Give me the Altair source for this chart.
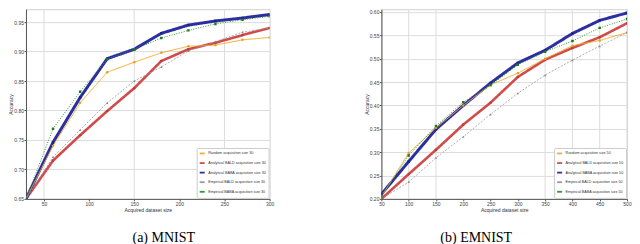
import altair as alt
import pandas as pd

# ---------------- data ----------------
mnist_sizes = [30, 60, 90, 120, 150, 180, 210, 240, 270, 300]
mnist_series = [
    "Random acquisition size 30",
    "Analytical BALD acquisition size 30",
    "Analytical BABA acquisition size 30",
    "Empirical BALD acquisition size 30",
    "Empirical BABA acquisition size 30",
]
mnist_random = [0.650, 0.740, 0.813, 0.865, 0.882, 0.898, 0.909, 0.911, 0.920, 0.924]
mnist_an_bald = [0.650, 0.715, 0.758, 0.799, 0.838, 0.884, 0.904, 0.915, 0.928, 0.940]
mnist_an_baba = [0.650, 0.746, 0.822, 0.888, 0.904, 0.931, 0.945, 0.952, 0.957, 0.963]
mnist_emp_bald = [0.650, 0.721, 0.767, 0.813, 0.850, 0.874, 0.901, 0.917, 0.933, 0.940]
mnist_emp_baba = [0.650, 0.769, 0.832, 0.887, 0.904, 0.923, 0.936, 0.947, 0.954, 0.960]
mnist_xticks = [50, 100, 150, 200, 250, 300]
mnist_yticks = [0.65, 0.70, 0.75, 0.80, 0.85, 0.90, 0.95]
mnist_gridx = [50, 150, 250]

emnist_sizes = [50, 100, 150, 200, 250, 300, 350, 400, 450, 500]
emnist_series = [
    "Random acquisition size 50",
    "Analytical BALD acquisition size 50",
    "Analytical BABA acquisition size 50",
    "Empirical BALD acquisition size 50",
    "Empirical BABA acquisition size 50",
]
emnist_random = [0.205, 0.298, 0.352, 0.400, 0.444, 0.469, 0.500, 0.528, 0.539, 0.556]
emnist_an_bald = [0.200, 0.253, 0.305, 0.359, 0.406, 0.461, 0.498, 0.523, 0.546, 0.576]
emnist_an_baba = [0.210, 0.280, 0.349, 0.400, 0.448, 0.491, 0.518, 0.554, 0.582, 0.598]
emnist_emp_bald = [0.200, 0.236, 0.288, 0.333, 0.381, 0.426, 0.465, 0.497, 0.527, 0.556]
emnist_emp_baba = [0.205, 0.293, 0.356, 0.407, 0.443, 0.487, 0.515, 0.538, 0.566, 0.585]
emnist_xticks = [50, 100, 150, 200, 250, 300, 350, 400, 450, 500]
emnist_yticks = [0.20, 0.25, 0.30, 0.35, 0.40, 0.45, 0.50, 0.55, 0.60]
emnist_gridx = [100, 150, 350, 400, 450, 500]

# ---------------- styles ----------------
line_colors = ["#f0ad2e", "#d24b4b", "#2b2fa0", "#9a9a9a", "#2f9a2f"]
marker_colors = ["#e8a020", "#c03838", "#1c2090", "#888888", "#1d7a1d"]
line_widths = [1.0, 2.6, 3.0, 0.8, 1.0]
line_dashes = [[1, 0], [1, 0], [1, 0], [2, 1.5], [1, 1.5]]
marker_shapes = ["circle", "circle", "square", "triangle-up", "square"]
draw_order = [1, 2, 0, 3, 4]

FONT = "Liberation Sans"
PLOT_H = 190


def panel(sizes, names, values, xdom, ydom, xticks, yticks, gridx, caption, dx, width):
    mkeys = ["m" + str(i) for i in range(len(names))]
    wkeys = ["w" + str(i) for i in range(len(names))]
    rows = []
    for i in draw_order:
        for s, v in zip(sizes, values[i]):
            rows.append({"size": s, "acc": v, "series": names[i],
                         "grp": mkeys[i], "wgrp": wkeys[i]})
    df = pd.DataFrame(rows)

    x = alt.X(
        "size:Q",
        scale=alt.Scale(domain=xdom, nice=False, zero=False),
        axis=alt.Axis(
            values=xticks, title="Acquired dataset size", grid=False,
            labelFontSize=5, titleFontSize=5, titleFontWeight="normal",
            labelFont=FONT, titleFont=FONT, labelColor="#444", titleColor="#333",
            domainColor="#555", tickColor="#555", tickSize=2, labelPadding=1,
            titlePadding=1, labelFlush=False,
        ),
    )
    y = alt.Y(
        "acc:Q",
        scale=alt.Scale(domain=ydom, nice=False, zero=False),
        axis=alt.Axis(
            values=yticks, format=".2f", title="Accuracy", grid=True,
            gridColor="#dcdcdc", gridWidth=1,
            labelFontSize=5, titleFontSize=5, titleFontWeight="normal",
            labelFont=FONT, titleFont=FONT, labelColor="#444", titleColor="#333",
            domainColor="#555", tickColor="#555", tickSize=2, labelPadding=0.5,
            titlePadding=0,
        ),
    )

    grid = (
        alt.Chart(pd.DataFrame({"size": gridx}))
        .mark_rule(color="#dcdcdc", strokeWidth=1)
        .encode(x=x)
    )

    lines = (
        alt.Chart(df)
        .mark_line(clip=True)
        .encode(
            x=x,
            y=y,
            color=alt.Color(
                "series:N",
                scale=alt.Scale(domain=names, range=line_colors),
                legend=alt.Legend(
                    title=None, orient="bottom-right", offset=1,
                    symbolType="stroke", symbolSize=25,
                    symbolStrokeWidth=1.8,
                    labelFontSize=3.7, labelFont=FONT, labelColor="#333",
                    labelOffset=2.5, padding=2, rowPadding=0.6,
                    fillColor="white", strokeColor="#cccccc", cornerRadius=1,
                    labelLimit=200,
                ),
            ),
            strokeWidth=alt.StrokeWidth(
                "wgrp:N",
                scale=alt.Scale(type="ordinal", domain=wkeys, range=line_widths),
                legend=None,
            ),
            strokeDash=alt.StrokeDash(
                "wgrp:N",
                scale=alt.Scale(domain=wkeys, range=line_dashes),
                legend=None,
            ),
        )
    )

    pts = (
        alt.Chart(df)
        .mark_point(filled=True, size=6, opacity=1, clip=True)
        .encode(
            x=x,
            y=y,
            fill=alt.Fill(
                "grp:N",
                scale=alt.Scale(domain=mkeys, range=marker_colors),
                legend=None,
            ),
            shape=alt.Shape(
                "grp:N",
                scale=alt.Scale(domain=mkeys, range=marker_shapes),
                legend=None,
            ),
        )
    )

    return alt.layer(grid, lines, pts).properties(
        width=width,
        height=PLOT_H,
        title=alt.TitleParams(
            caption, orient="bottom", anchor="middle", frame="group", dx=dx,
            fontSize=14, font="Liberation Serif", fontWeight="normal",
            color="black", offset=18, baseline="top",
        ),
    )


m = panel(
    mnist_sizes, mnist_series,
    [mnist_random, mnist_an_bald, mnist_an_baba, mnist_emp_bald, mnist_emp_baba],
    [30, 300], [0.65, 0.972], mnist_xticks, mnist_yticks, mnist_gridx,
    "(a) MNIST", 16, 244,
)
e = panel(
    emnist_sizes, emnist_series,
    [emnist_random, emnist_an_bald, emnist_an_baba, emnist_emp_bald, emnist_emp_baba],
    [50, 500], [0.2, 0.606], emnist_xticks, emnist_yticks, emnist_gridx,
    "(b) EMNIST", -28, 246,
)

chart = (
    alt.hconcat(m, e, spacing=112, bounds="flush")
    .resolve_scale(
        color="independent", strokeWidth="independent",
        strokeDash="independent", fill="independent", shape="independent",
    )
    .resolve_legend(color="independent")
    .configure_view(stroke="#d0d0d0", strokeWidth=1)
    .properties(padding=0, background="white")
)

chart.save("out.html", embed_options={"renderer": "svg", "actions": False})
